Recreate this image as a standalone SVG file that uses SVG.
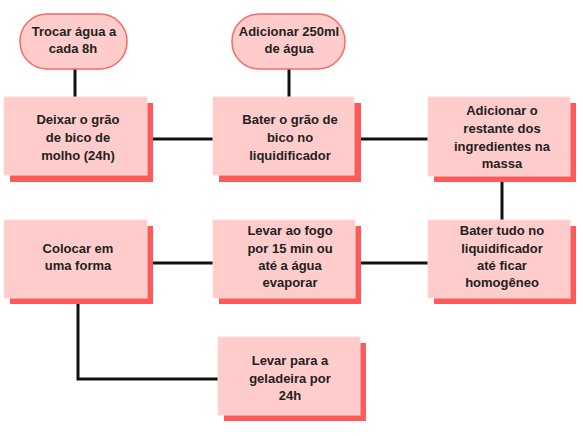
<svg xmlns="http://www.w3.org/2000/svg" width="583" height="436" viewBox="0 0 583 436">
<style>
.sh{fill:#ff5a5a}
.bx{fill:#ffcccc;stroke:#ffd9d9;stroke-width:1}
.rd{fill:#ffcccc;stroke:#ff6666;stroke-width:1.5}
.t{font-family:"Liberation Sans",Arial,sans-serif;font-weight:bold;font-size:13px;fill:#222;text-anchor:middle}
.c{fill:none;stroke:#111;stroke-width:3}
</style>
<rect width="583" height="436" fill="#fff"/>
<g id="connectors">
<line class="c" x1="75" y1="69" x2="75" y2="97"/>
<line class="c" x1="289" y1="69" x2="289" y2="97"/>
<line class="c" x1="147" y1="139" x2="213" y2="139"/>
<line class="c" x1="354" y1="139" x2="428" y2="139"/>
<line class="c" x1="502" y1="176" x2="502" y2="220"/>
<line class="c" x1="355" y1="263" x2="428" y2="263"/>
<line class="c" x1="147" y1="263" x2="213" y2="263"/>
<polyline class="c" points="78,298 78,379 218,379"/>
</g>
<g id="trocar">
<rect class="rd" x="20" y="14" width="107" height="55" rx="27"/>
<text class="t" x="74" y="36">Trocar água a</text>
<text class="t" x="73" y="53">cada 8h</text>
</g>
<g id="adicionar250">
<rect class="rd" x="232" y="14" width="113" height="55" rx="27"/>
<text class="t" x="289" y="36">Adicionar 250ml</text>
<text class="t" x="289" y="53">de água</text>
</g>
<g id="deixar">
<rect class="sh" x="10" y="103" width="143" height="79"/>
<rect class="bx" x="4" y="97" width="143" height="78"/>
<text class="t" x="78" y="124">Deixar o grão</text>
<text class="t" x="78" y="142">de bico de</text>
<text class="t" x="78" y="160">molho (24h)</text>
</g>
<g id="bater-grao">
<rect class="sh" x="219" y="103" width="142" height="79"/>
<rect class="bx" x="213" y="97" width="141" height="78"/>
<text class="t" x="290" y="124">Bater o grão de</text>
<text class="t" x="290" y="142">bico no</text>
<text class="t" x="290" y="160">liquidificador</text>
</g>
<g id="adicionar-restante">
<rect class="sh" x="434" y="103" width="142" height="79"/>
<rect class="bx" x="428" y="97" width="142" height="79"/>
<text class="t" x="502" y="115">Adicionar o</text>
<text class="t" x="502" y="133">restante dos</text>
<text class="t" x="502" y="151">ingredientes na</text>
<text class="t" x="502" y="168">massa</text>
</g>
<g id="colocar">
<rect class="sh" x="10" y="226" width="143" height="78"/>
<rect class="bx" x="4" y="220" width="143" height="78"/>
<text class="t" x="78" y="253">Colocar em</text>
<text class="t" x="78" y="270">uma forma</text>
</g>
<g id="levar-fogo">
<rect class="sh" x="219" y="226" width="142" height="78"/>
<rect class="bx" x="213" y="220" width="142" height="78"/>
<text class="t" x="290" y="235">Levar ao fogo</text>
<text class="t" x="290" y="253">por 15 min ou</text>
<text class="t" x="290" y="270">até a água</text>
<text class="t" x="290" y="287">evaporar</text>
</g>
<g id="bater-tudo">
<rect class="sh" x="434" y="226" width="142" height="78"/>
<rect class="bx" x="428" y="220" width="142" height="78"/>
<text class="t" x="502" y="235">Bater tudo no</text>
<text class="t" x="502" y="253">liquidificador</text>
<text class="t" x="502" y="270">até ficar</text>
<text class="t" x="502" y="287">homogêneo</text>
</g>
<g id="geladeira">
<rect class="sh" x="224" y="343" width="142" height="78"/>
<rect class="bx" x="218" y="337" width="142" height="78"/>
<text class="t" x="290" y="365">Levar para a</text>
<text class="t" x="290" y="383">geladeira por</text>
<text class="t" x="290" y="400">24h</text>
</g>
</svg>
